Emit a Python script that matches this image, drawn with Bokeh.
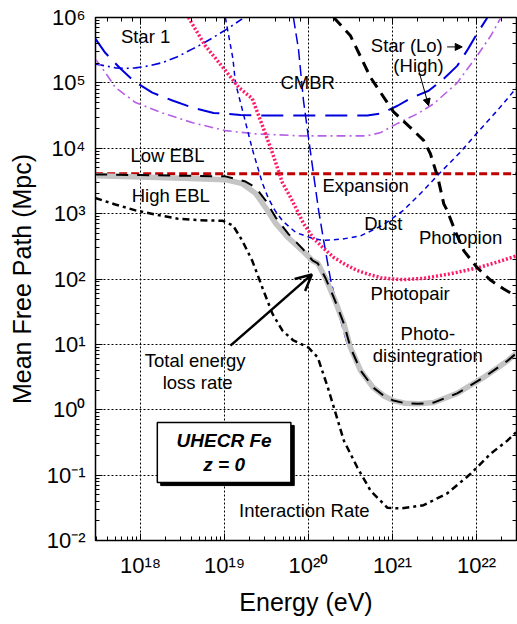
import numpy as np
from bokeh.plotting import figure
from bokeh.models import (Range1d, LogAxis, CustomJSTickFormatter, Arrow, OpenHead,
                          NormalHead, ColumnDataSource)
from bokeh.core.properties import value
from bokeh.embed import file_html
from bokeh.resources import INLINE

FONT = "Liberation Sans"

# ---------------- data (log10 energy [eV], log10 mean free path [Mpc]) ----------------
expansion_logE = [17.46, 22.48]
expansion_logL = [3.61, 3.61]

star1_logE = [17.46, 17.58, 17.70, 17.82, 17.94, 18.10, 18.26, 18.44, 18.62, 18.74, 18.86, 19.05, 19.21]
star1_logL = [5.29, 5.26, 5.23, 5.22, 5.23, 5.26, 5.31, 5.40, 5.52, 5.60, 5.69, 5.84, 5.98]

starlo_logE = [17.46, 17.58, 17.76, 17.92, 18.14, 18.38, 18.62, 18.87, 19.19, 19.49, 19.90, 20.30, 20.70,
               20.86, 21.06, 21.21, 21.43, 21.60, 21.77, 21.90, 22.01, 22.13]
starlo_logL = [5.68, 5.46, 5.22, 5.03, 4.85, 4.73, 4.62, 4.54, 4.51, 4.50, 4.50, 4.50, 4.50,
               4.53, 4.65, 4.76, 4.88, 5.05, 5.26, 5.52, 5.76, 6.00]

starhi_logE = [17.46, 17.58, 17.70, 17.94, 18.26, 18.62, 19.01, 19.37, 19.90, 20.30, 20.70,
               20.86, 21.06, 21.30, 21.49, 21.77, 22.01, 22.17, 22.29]
starhi_logL = [5.37, 5.16, 4.93, 4.70, 4.54, 4.39, 4.27, 4.22, 4.19, 4.19, 4.19,
               4.24, 4.38, 4.53, 4.68, 5.00, 5.42, 5.72, 6.00]

cmbr_logE = [19.82, 19.88, 19.94, 20.00, 20.06, 20.12, 20.18, 20.26, 20.35, 20.46, 20.50, 20.62, 20.77,
             21.01, 21.30, 21.49, 21.77, 22.08, 22.37, 22.48]
cmbr_logL = [6.00, 5.52, 4.73, 4.16, 3.60, 3.05, 2.59, 2.01, 1.52, 1.01, 0.95, 0.60, 0.34,
             0.14, 0.09, 0.11, 0.25, 0.49, 0.75, 0.87]

dust_logE = [19.01, 19.10, 19.13, 19.23, 19.33, 19.45, 19.52, 19.60, 19.69, 19.85, 20.05, 20.18, 20.40,
             20.62, 20.88, 21.13, 21.35, 21.57, 21.80, 22.01, 22.25, 22.48]
dust_logL = [6.00, 5.37, 5.00, 4.50, 3.99, 3.47, 3.24, 3.05, 2.89, 2.71, 2.62, 2.59, 2.61,
             2.66, 2.82, 3.05, 3.33, 3.63, 3.93, 4.24, 4.58, 4.93]

photopair_logE = [18.57, 18.77, 19.01, 19.17, 19.33, 19.45, 19.57, 19.69, 19.79, 19.94, 20.06, 20.18, 20.30,
                  20.44, 20.58, 20.72, 20.86, 21.00, 21.13, 21.37, 21.69, 22.01, 22.25, 22.49]
photopair_logL = [6.00, 5.57, 5.19, 4.93, 4.76, 4.35, 3.93, 3.47, 3.24, 2.85, 2.62, 2.47, 2.33,
                  2.22, 2.13, 2.07, 2.02, 2.00, 1.99, 2.01, 2.08, 2.17, 2.26, 2.36]

photopion_logE = [20.30, 20.50, 20.74, 21.01, 21.21, 21.37, 21.45, 21.54, 21.61, 21.65, 21.75, 21.85,
                  22.01, 22.17, 22.32, 22.48]
photopion_logL = [6.00, 5.72, 5.08, 4.56, 4.32, 4.12, 3.92, 3.55, 3.15, 3.05, 2.72, 2.43,
                  2.17, 1.98, 1.85, 1.73]

total_high_logE = [17.46, 18.00, 18.50, 19.01, 19.21, 19.37, 19.49, 19.61, 19.76, 19.93, 20.05, 20.11,
                   20.20, 20.30, 20.42, 20.50, 20.62, 20.77, 20.90, 21.01, 21.15, 21.30, 21.49, 21.77,
                   22.08, 22.37, 22.48]
total_high_logL = [3.58, 3.56, 3.54, 3.52, 3.46, 3.31, 3.09, 2.85, 2.63, 2.43, 2.28, 2.24,
                   2.02, 1.72, 1.32, 0.95, 0.60, 0.34, 0.21, 0.14, 0.10, 0.09, 0.11, 0.25,
                   0.49, 0.75, 0.87]

total_low_logE = [17.46, 18.00, 18.50, 19.01, 19.25, 19.37, 19.49, 19.61, 19.76, 19.93, 20.05, 20.11,
                  20.20, 20.30, 20.42, 20.50, 20.62, 20.77, 20.90, 21.01, 21.15, 21.30, 21.49, 21.77,
                  22.08, 22.37, 22.48]
total_low_logL = [3.60, 3.59, 3.58, 3.57, 3.49, 3.40, 3.20, 2.94, 2.69, 2.46, 2.28, 2.24,
                  2.02, 1.72, 1.32, 0.95, 0.60, 0.34, 0.21, 0.14, 0.10, 0.09, 0.11, 0.25,
                  0.49, 0.75, 0.87]

interaction_logE = [17.46, 17.70, 17.94, 18.20, 18.45, 18.70, 18.98, 19.10, 19.21, 19.33, 19.45, 19.57,
                    19.69, 19.82, 20.00, 20.11, 20.23, 20.35, 20.42, 20.58, 20.74, 20.94, 21.10,
                    21.37, 21.65, 21.93, 22.17, 22.37, 22.49]
interaction_logL = [3.24, 3.14, 3.05, 2.98, 2.92, 2.90, 2.89, 2.82, 2.59, 2.28, 1.87, 1.47,
                    1.21, 1.06, 0.95, 0.80, 0.34, -0.17, -0.47, -0.88, -1.24, -1.50, -1.51,
                    -1.46, -1.28, -0.98, -0.67, -0.47, -0.32]

# labels: (text, log10 E, log10 L)
labels = [
    ("Star 1", 18.06, 5.71),
    ("CMBR", 19.99, 5.00),
    ("Star (Lo)", 21.17, 5.57),
    ("(High)", 21.31, 5.26),
    ("Low EBL", 18.32, 3.89),
    ("High EBL", 18.36, 3.28),
    ("Expansion", 20.68, 3.43),
    ("Dust", 20.89, 2.85),
    ("Photopion", 21.81, 2.63),
    ("Photopair", 21.21, 1.78),
    ("Photo-", 21.42, 1.17),
    ("disintegration", 21.42, 0.83),
    ("Total energy", 18.65, 0.75),
    ("loss rate", 18.68, 0.42),
    ("Interaction Rate", 19.95, -1.54),
]
box_lines = ["UHECR Fe", "z = 0"]

E_MIN, E_MAX = 17.464, 22.476
L_MIN, L_MAX = -2, 6


def P(a):
    return 10 ** np.asarray(a, dtype=float)


p = figure(width=517, height=624, x_axis_type="log", y_axis_type="log",
           x_range=Range1d(10 ** E_MIN, 10 ** E_MAX), y_range=Range1d(10 ** L_MIN, 10 ** L_MAX),
           output_backend="svg", toolbar_location=None,
           min_border_left=95, min_border_right=1, min_border_top=17, min_border_bottom=84)
p.background_fill_color = "white"
p.border_fill_color = "white"
p.outline_line_color = "black"
p.outline_line_width = 1.5

sup_js = """
const sup = {'0':'\\u2070','1':'\\u00b9','2':'\\u00b2','3':'\\u00b3','4':'\\u2074','5':'\\u2075',
             '6':'\\u2076','7':'\\u2077','8':'\\u2078','9':'\\u2079','-':'\\u207b'};
const e = Math.round(Math.log10(tick));
let s = '10';
for (const c of String(e)) { s += sup[c]; }
return s;
"""

for ax in (p.xaxis[0], p.yaxis[0]):
    ax.formatter = CustomJSTickFormatter(code=sup_js)
    ax.major_label_text_font = FONT
    ax.major_label_text_font_size = "22px"
    ax.major_label_text_color = "black"
    ax.axis_label_text_font = FONT
    ax.axis_label_text_font_size = "25px"
    ax.axis_label_text_font_style = "normal"
    ax.axis_label_text_color = "black"
    ax.major_tick_in = 7
    ax.major_tick_out = 0
    ax.minor_tick_in = 4
    ax.minor_tick_out = 0
    ax.axis_line_color = "black"
    ax.major_tick_line_color = "black"
    ax.minor_tick_line_color = "black"

p.xaxis.axis_label = "Energy (eV)"
p.yaxis.axis_label = "Mean Free Path (Mpc)"
p.xaxis.major_label_standoff = 12
p.yaxis.major_label_standoff = 10
p.xaxis.axis_label_standoff = 7
p.yaxis.axis_label_standoff = 8

for loc in ("right", "above"):
    ax = LogAxis(major_label_text_font_size="1px", major_label_text_alpha=0,
                 major_tick_in=7, major_tick_out=0,
                 minor_tick_in=4, minor_tick_out=0, major_label_standoff=0,
                 axis_line_color="black")
    p.add_layout(ax, loc)

for g in (p.xgrid[0], p.ygrid[0]):
    g.grid_line_color = "black"
    g.grid_line_dash = "2 2"
    g.grid_line_width = 1
    g.grid_line_alpha = 1.0

# curves
p.line(P(expansion_logE), P(expansion_logL), line_color="#c00000", line_width=3, line_dash="8 4")
p.line(P(star1_logE), P(star1_logL), line_color="#0000dd", line_width=1.6, line_dash="9 4 2 4")
p.line(P(starhi_logE), P(starhi_logL), line_color="#b660e6", line_width=1.6, line_dash="9 4 2 4")
p.line(P(starlo_logE), P(starlo_logL), line_color="#0000dd", line_width=2, line_dash="22 10")
p.line(P(dust_logE), P(dust_logL), line_color="#0000dd", line_width=1.5, line_dash="5 4")
p.line(P(cmbr_logE), P(cmbr_logL), line_color="#0000dd", line_width=1.5, line_dash="11 5")
p.line(P(photopair_logE), P(photopair_logL), line_color="#ff1a66", line_width=3.5, line_dash="2 2")
p.line(P(photopion_logE), P(photopion_logL), line_color="black", line_width=3, line_dash="11 7")
p.line(P(interaction_logE), P(interaction_logL), line_color="black", line_width=2.5, line_dash="7 4 3 4")
p.line(P(total_high_logE), P(total_high_logL), line_color="#c4c4c4", line_width=5.5)
p.line(P(total_low_logE), P(total_low_logL), line_color="black", line_width=2, line_dash="12 9")

# labels
src = ColumnDataSource(dict(x=P([l[1] for l in labels]), y=P([l[2] for l in labels]),
                            t=[l[0] for l in labels]))
p.text(x="x", y="y", text="t", source=src, text_font=value(FONT), text_font_size="18.5px",
       text_align="center", text_baseline="middle", text_color="black")

# arrows
p.add_layout(Arrow(end=OpenHead(size=16, line_width=2.5, line_color="black"),
                   x_start=10 ** 19.07, y_start=10 ** 0.98, x_end=10 ** 20.04, y_end=10 ** 2.07,
                   line_width=2.5, line_color="black"))
p.add_layout(Arrow(end=NormalHead(size=7, fill_color="black", line_color="black"),
                   x_start=10 ** 21.65, y_start=10 ** 5.55, x_end=10 ** 21.83, y_end=10 ** 5.55,
                   line_width=1, line_color="black"))
p.add_layout(Arrow(end=NormalHead(size=7, fill_color="black", line_color="black"),
                   x_start=10 ** 21.31, y_start=10 ** 5.20, x_end=10 ** 21.43, y_end=10 ** 4.65,
                   line_width=1, line_color="black"))

# UHECR Fe box with shadow (drawn as glyphs so the text sits on top)
p.quad(left=10 ** 18.24, right=10 ** 19.83, top=10 ** -0.24, bottom=10 ** -1.16,
       fill_color="black", line_color="black", line_width=1)
p.quad(left=10 ** 18.20, right=10 ** 19.79, top=10 ** -0.196, bottom=10 ** -1.113,
       fill_color="white", line_color="black", line_width=1.5)
box_src = ColumnDataSource(dict(x=P([18.995, 18.995]), y=P([-0.47, -0.83]), t=box_lines))
p.text(x="x", y="y", text="t", source=box_src, text_font=value(FONT), text_font_size="19px",
       text_font_style="bold italic", text_align="center", text_baseline="middle", text_color="black")

open("out.html", "w").write(file_html(p, INLINE))
